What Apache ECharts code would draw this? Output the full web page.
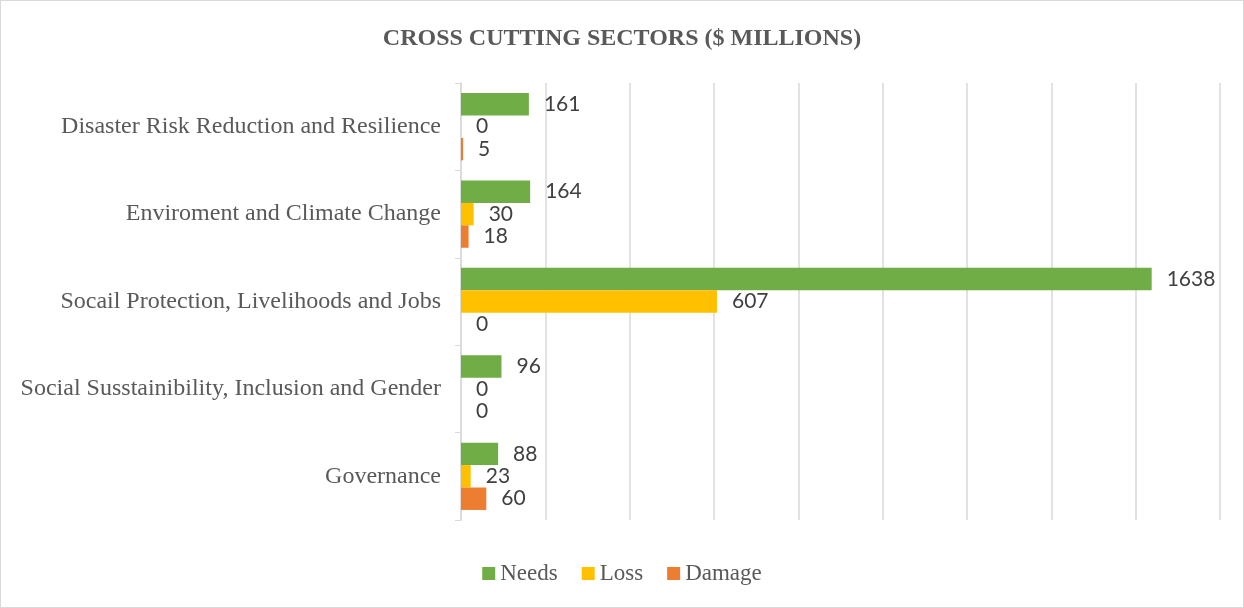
<!DOCTYPE html>
<html><head><meta charset="utf-8">
<script src="https://cdn.jsdelivr.net/npm/echarts@6/dist/echarts.min.js"></script>
<style>html,body{margin:0;padding:0;background:#fff}#c{width:1242px;height:606px;border:1px solid #d9d9d9}</style>
</head><body><div id="c"></div>
<script>
const categories = ["Disaster Risk Reduction and Resilience","Enviroment and Climate Change","Socail Protection, Livelihoods and Jobs","Social Susstainibility, Inclusion and Gender","Governance"];
const needs = [161,164,1638,96,88];
const loss = [0,30,607,0,23];
const damage = [5,18,0,0,60];
const chart = echarts.init(document.getElementById('c'));
const lbl = {show:true,position:'right',distance:15,color:'#404040',fontSize:21,fontFamily:'Lato, "Open Sans", sans-serif'};
chart.setOption({
  animation:false,
  title:{text:'CROSS CUTTING SECTORS ($ MILLIONS)',left:'center',top:21,textStyle:{fontFamily:'"Liberation Serif", serif',fontWeight:'bold',fontSize:24,color:'#595959'}},
  legend:{bottom:17,left:'center',itemWidth:13,itemHeight:13,itemGap:24,icon:'rect',textStyle:{fontFamily:'"Liberation Serif", serif',fontSize:23,color:'#595959'},data:['Needs','Loss','Damage']},
  grid:{left:460,right:23,top:82,bottom:87,containLabel:false},
  xAxis:{type:'value',min:0,max:1800,interval:200,axisLabel:{show:false},axisLine:{show:false},axisTick:{show:false},splitLine:{lineStyle:{color:'#d9d9d9',width:1.5}}},
  yAxis:{type:'category',inverse:true,data:categories,axisLine:{lineStyle:{color:'#d9d9d9',width:1.5}},axisTick:{show:true,length:6,lineStyle:{color:'#d9d9d9'}},axisLabel:{margin:20,fontFamily:'"Liberation Serif", serif',fontSize:24,color:'#595959'}},
  series:[
    {name:'Needs',type:'bar',data:needs,itemStyle:{color:'#70AD47'},barGap:'0%',barCategoryGap:'23%',label:lbl},
    {name:'Loss',type:'bar',data:loss,itemStyle:{color:'#FFC000'},barGap:'0%',barCategoryGap:'23%',label:lbl},
    {name:'Damage',type:'bar',data:damage,itemStyle:{color:'#ED7D31'},barGap:'0%',barCategoryGap:'23%',label:lbl}
  ]
});
</script></body></html>
